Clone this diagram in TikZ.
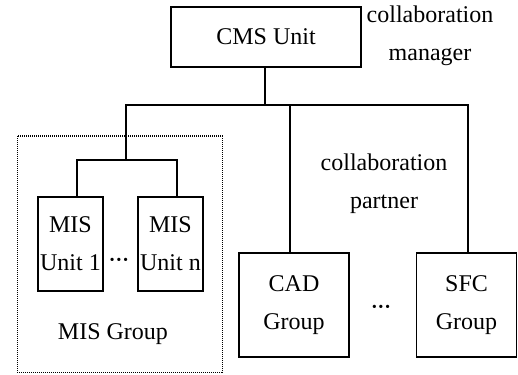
\documentclass[tikz,border=0pt]{standalone}
\usepackage{fontspec}
\setmainfont{Liberation Serif}
\begin{document}
\begin{tikzpicture}[x=1pt,y=-1pt,
  box/.style={draw,line width=1.8pt,inner sep=0pt,align=center,font=\fontsize{24}{38}\selectfont},
  lbl/.style={inner sep=0pt,align=center,font=\fontsize{24}{38}\selectfont},
  dotlbl/.style={inner sep=0pt,font=\fontsize{20}{22}\selectfont\bfseries},
  conn/.style={line width=1.4pt,line cap=rect},
  grp/.style={draw,line width=1pt,dash pattern=on 1pt off 1pt,inner sep=0pt}]
\useasboundingbox (0,0) rectangle (518,374);
% group frame
\node[grp,minimum width=205pt,minimum height=236pt] (misgrp) at (119.5,254) {};
% nodes
\node[box,minimum width=190pt,minimum height=60pt] (cms) at (266,37) {CMS Unit};
\node[lbl] (mgr) at (430,36) {collaboration\\manager};
\node[lbl] (ptn) at (384,184) {collaboration\\partner};
\node[box,minimum width=65pt,minimum height=94pt] (mis1) at (70.5,244) {MIS\\Unit 1};
\node[box,minimum width=65pt,minimum height=94pt] (misn) at (170.5,244) {MIS\\Unit n};
\node[dotlbl] (dots1) at (119,262) {···};
\node[lbl] (misglbl) at (113,334) {MIS Group};
\node[box,minimum width=110pt,minimum height=104pt] (cad) at (294,305) {CAD\\Group};
\node[box,minimum width=100pt,minimum height=104pt] (sfc) at (466.5,305) {SFC\\Group};
\node[dotlbl] (dots2) at (381,309) {···};
% connectors
\coordinate (bus) at (265,105);
\coordinate (busL) at (126,105);
\coordinate (busM) at (290,105);
\coordinate (busR) at (468,105);
\coordinate (misbus) at (126,160);
\coordinate (misbusL) at (77,160);
\coordinate (misbusR) at (177,160);
\draw[conn] (bus |- cms.south) -- (bus);
\draw[conn] (busL) -- (busR);
\draw[conn] (busL) -- (misbus);
\draw[conn] (misbusL) -- (misbusR);
\draw[conn] (misbusL) -- (misbusL |- mis1.north);
\draw[conn] (misbusR) -- (misbusR |- misn.north);
\draw[conn] (busM) -- (busM |- cad.north);
\draw[conn] (busR) -- (busR |- sfc.north);
\end{tikzpicture}
\end{document}
